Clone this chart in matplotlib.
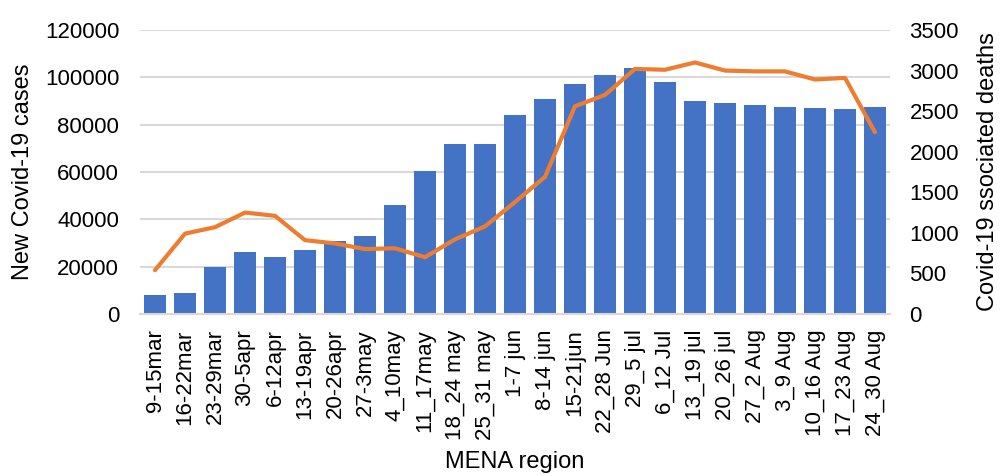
import matplotlib.pyplot as plt
import numpy as np

plt.rcParams['font.family'] = ['Liberation Sans', 'DejaVu Sans']

weeks = ['9-15mar', '16-22mar', '23-29mar', '30-5apr', '6-12apr', '13-19apr',
         '20-26apr', '27-3may', '4_10may', '11_17may', '18_24 may', '25_31 may',
         '1-7 jun', '8-14 jun', '15-21jun', '22_28 Jun', '29_5 jul', '6_12 Jul',
         '13_19 jul', '20_26 jul', '27_2 Aug', '3_9 Aug', '10_16 Aug',
         '17_23 Aug', '24_30 Aug']
cases = [8000, 9000, 20000, 26000, 24000, 27000, 31000, 33000, 46000, 60500,
         72000, 72000, 84000, 91000, 97000, 101000, 104000, 98000, 90000,
         89000, 88300, 87600, 86900, 86500, 87300]
deaths = [540, 990, 1070, 1250, 1210, 910, 870, 800, 810, 700, 920, 1080,
          1380, 1690, 2560, 2700, 3020, 3010, 3100, 3000, 2990, 2990, 2890,
          2910, 2240]

blue = '#4472C4'
orange = '#ED7D31'
fs = 16
lfs = 17

fig = plt.figure(figsize=(10.01, 4.76), dpi=100)
ax = fig.add_axes([140 / 1001, 1 - 314 / 476, 750 / 1001, 284 / 476])
x = np.arange(len(weeks))

ax.bar(x, cases, width=0.74, color=blue, zorder=2)
ax.set_xlim(-0.5, len(weeks) - 0.5)
ax.set_ylim(0, 120000)
ax.set_yticks(range(0, 120001, 20000))
ax.yaxis.grid(True, color='#D9D9D9', linewidth=1.5, zorder=0)
ax.set_axisbelow(True)
ax.set_xticks(x)
ax.set_xticklabels(weeks, rotation=90)
ax.tick_params(length=0, labelsize=fs)
ax.tick_params(axis='x', pad=11)
ax.tick_params(axis='y', pad=15)
for s in ['top', 'right', 'left']:
    ax.spines[s].set_visible(False)
ax.spines['bottom'].set_color('#D9D9D9')
ax.spines['bottom'].set_linewidth(1.5)
ax.set_ylabel('New Covid-19 cases', fontsize=lfs, labelpad=8)
ax.set_xlabel('MENA region', fontsize=lfs, labelpad=8)

ax2 = ax.twinx()
ax2.plot(x, deaths, color=orange, linewidth=3, solid_capstyle='round',
         solid_joinstyle='round', zorder=3)
ax2.set_ylim(0, 3500)
ax2.set_yticks(range(0, 3501, 500))
ax2.tick_params(length=0, labelsize=fs, pad=14)
for s in ax2.spines.values():
    s.set_visible(False)
ax2.set_ylabel('Covid-19 ssociated deaths', fontsize=lfs, labelpad=13)

fig.savefig('out.png', dpi=100)
